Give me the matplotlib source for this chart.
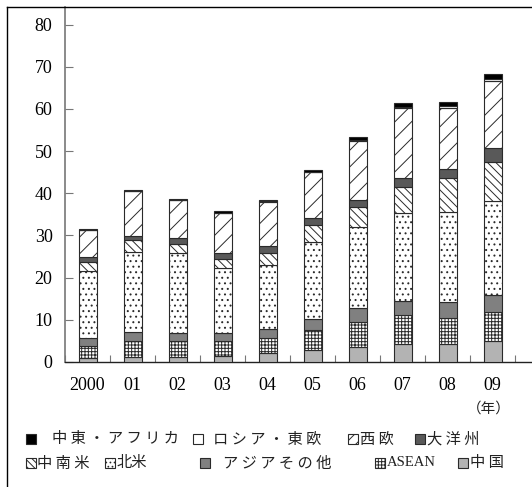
import matplotlib
matplotlib.use("Agg")
import matplotlib.pyplot as plt
from matplotlib.patches import Rectangle
from matplotlib.lines import Line2D
import numpy as np

plt.rcParams['hatch.linewidth'] = 0.7

years = ["2000", "01", "02", "03", "04", "05", "06", "07", "08", "09"]

# Stacked from the bottom up
china = [0.9, 1.1, 1.3, 1.5, 2.1, 2.8, 3.5, 4.3, 4.3, 5.0]
asean = [2.9, 3.9, 3.7, 3.5, 3.7, 4.8, 5.9, 6.8, 6.2, 6.9]
asia_other = [1.8, 2.1, 1.9, 1.8, 2.0, 2.6, 3.3, 3.4, 3.8, 4.1]
north_america = [16.0, 18.9, 18.9, 15.4, 15.3, 18.3, 19.4, 20.8, 21.2, 22.2]
latin_america = [2.0, 2.9, 2.3, 2.3, 2.7, 3.9, 4.6, 6.2, 8.2, 9.2]
oceania = [1.2, 1.0, 1.4, 1.3, 1.6, 1.7, 1.6, 2.1, 2.1, 3.3]
west_europe = [6.4, 10.6, 8.8, 9.5, 10.5, 10.9, 14.1, 16.6, 14.4, 16.0]
russia_east_europe = [0.1, 0.1, 0.1, 0.1, 0.2, 0.1, 0.3, 0.3, 0.4, 0.4]
mideast_africa = [0.2, 0.2, 0.2, 0.4, 0.4, 0.4, 0.7, 0.8, 1.1, 1.1]

EDGE = "#2a2a2a"
# name, values, fill, bar hatch, legend-swatch hatch
series = [
    ("中国", china, "#b3b3b3", None, None),
    ("ASEAN", asean, "white", "+++++", "+++++"),
    ("アジアその他", asia_other, "#808080", None, None),
    ("北米", north_america, "white", "...", "...."),
    ("中南米", latin_america, "white", "\\\\\\\\", "\\\\\\\\\\"),
    ("大洋州", oceania, "#595959", None, None),
    ("西欧", west_europe, "white", "//", "///"),
    ("ロシア・東欧", russia_east_europe, "white", None, None),
    ("中東・アフリカ", mideast_africa, "black", None, None),
]

W, H = 532, 487
fig = plt.figure(figsize=(W / 100, H / 100), dpi=100)

def fx(px):
    return px / W

def fy(py):
    return 1 - py / H

ax_left, ax_right, ax_top, ax_bottom = 65, 535, 7, 362
ax = fig.add_axes([fx(ax_left), fy(ax_bottom), fx(ax_right - ax_left),
                   (ax_bottom - ax_top) / H])

x = np.arange(len(years))
bottom = np.zeros(len(years))
for name, vals, fc, hatch, _ in series:
    ax.bar(x, vals, width=0.4, bottom=bottom, facecolor=fc,
           hatch=hatch, edgecolor=EDGE, linewidth=0.8, zorder=3)
    bottom += np.array(vals)

ymax = (ax_bottom - ax_top) / 4.217
ax.set_ylim(0, ymax)
cat_px = 45.0
ax.set_xlim(-0.5, -0.5 + (ax_right - ax_left) / cat_px)

ax.set_yticks(np.arange(0, 81, 10))
ax.set_yticklabels([str(v) for v in range(0, 81, 10)],
                   family="Liberation Serif", fontsize=13)
ax.tick_params(axis="y", direction="in", length=6, width=0.8,
               color="#777777", pad=9)

ax.set_xticks(np.arange(-0.5, 10, 1.0))
ax.set_xticklabels([])
ax.set_xticks(x, minor=True)
ax.set_xticklabels(years, minor=True, family="Liberation Serif", fontsize=13)
ax.tick_params(axis="x", which="major", direction="in", length=5, width=0.8,
               color="#777777")
ax.tick_params(axis="x", which="minor", length=0, pad=11)

for s in ("top", "right"):
    ax.spines[s].set_visible(False)
ax.spines["left"].set_color("#777777")
ax.spines["left"].set_linewidth(1.2)
ax.spines["bottom"].set_color("#222222")
ax.spines["bottom"].set_linewidth(1.0)

# unit note
fig.text(fx(511), fy(409), "（年）", family=["Noto Sans CJK JP"], fontsize=10.5,
         ha="right", va="center", color="#222222")

# outer frame
fig.add_artist(Line2D([fx(7), fx(7)], [fy(7), fy(H + 10)], color="black", lw=1.0))
fig.add_artist(Line2D([fx(7), fx(W + 10)], [fy(7), fy(7)], color="black", lw=1.0))

# legend, drawn as swatches plus labels
style = {s[0]: s for s in series}
legend_rows = [
    (439, [("中東・アフリカ", "中 東 ・ ア フ リ カ", 26, 52),
           ("ロシア・東欧", "ロ シ ア ・ 東 欧", 193, 213),
           ("西欧", "西 欧", 348, 360),
           ("大洋州", "大 洋 州", 415, 427)]),
    (463, [("中南米", "中 南 米", 26, 37),
           ("北米", "北米", 105, 117),
           ("アジアその他", "ア ジ ア そ の 他", 200, 223),
           ("ASEAN", "ASEAN", 375, 387),
           ("中国", "中 国", 458, 470)]),
]
sq = 10
for yc, items in legend_rows:
    for name, label, sx, tx in items:
        _, _, fc, _, lhatch = style[name]
        fig.add_artist(Rectangle((fx(sx), fy(yc + sq / 2)), sq / W, sq / H,
                                 transform=fig.transFigure,
                                 facecolor=fc, hatch=lhatch,
                                 edgecolor=EDGE, linewidth=0.8))
        if name == "ASEAN":
            fig.text(fx(tx), fy(yc), label, family="Liberation Serif",
                     fontsize=10.5, ha="left", va="center", color="#222222")
        else:
            fig.text(fx(tx), fy(yc), label, family=["Noto Sans CJK JP"],
                     fontsize=11, ha="left", va="center", color="#222222")

fig.savefig("out.png", dpi=100)
